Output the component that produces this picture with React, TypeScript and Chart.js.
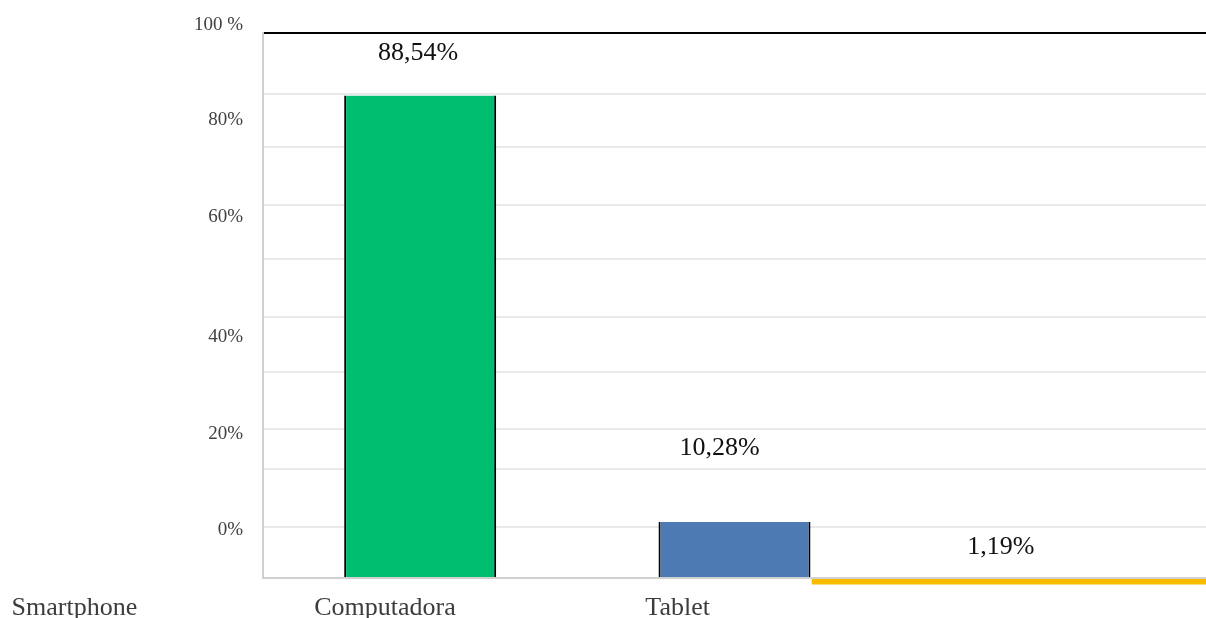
import React, { useEffect, useRef } from 'react';
import { Chart, registerables } from 'chart.js';

Chart.register(...registerables);

// ---- data ----
const categories = ['Computadora', 'Tablet', 'Smartphone'];
const shareValues = [88.54, 10.28, 1.19];
const barColors = ['#00BE6F', '#4E7AB4', '#F7BB00'];
const xTickLabels = ['Smartphone', 'Computadora', 'Tablet'];
const yTickLabels = ['100 %', '80%', '60%', '40%', '20%', '0%'];

const FONT = '"Liberation Serif", "Times New Roman", serif';

const fmt = (v: number) => v.toFixed(2).replace('.', ',') + '%';

export default function App() {
  const ref = useRef<HTMLCanvasElement | null>(null);

  useEffect(() => {
    if (!ref.current) return;

    // axis layout (as in the reference rendering)
    const gridValues = [100, 88.81, 79.08, 68.44, 58.53, 47.89, 37.8, 27.43, 20.0, 9.36, 0];
    const yLabelPositions = [101.5, 83.95, 66.25, 44.2, 26.4, 8.8];
    const xLabelPositions = [-1.1, -0.112, 0.819];
    const labelOffsets = [
      { dx: -2, dy: -35 },
      { dx: -15, dy: -66.5 },
      { dx: -48, dy: -25 },
    ];

    const valueLabels = {
      id: 'valueLabels',
      afterDatasetsDraw(chart: any) {
        const ctx = chart.ctx;
        ctx.save();
        ctx.font = `26px ${FONT}`;
        ctx.fillStyle = '#111111';
        ctx.textAlign = 'center';
        ctx.textBaseline = 'alphabetic';
        chart.data.datasets.forEach((ds: any, di: number) => {
          const meta = chart.getDatasetMeta(di);
          meta.data.forEach((el: any, i: number) => {
            if (ds.data[i] == null) return;
            const top = Math.min(el.y, el.base);
            const o = labelOffsets[i];
            ctx.fillText(fmt(shareValues[i]), el.x + o.dx, top + o.dy);
          });
        });
        ctx.restore();
      },
    };

    const mainData = shareValues.map((v, i) => (i < 2 ? v : null));
    const phoneData = shareValues.map((v, i) => (i === 2 ? [-v, 0] : null));

    const chart = new Chart(ref.current, {
      type: 'bar',
      data: {
        labels: categories,
        datasets: [
          {
            data: mainData as any,
            backgroundColor: barColors,
            borderColor: '#000000',
            borderWidth: { left: 2, right: 2, top: 0, bottom: 0 } as any,
            borderSkipped: false,
            grouped: false,
            barPercentage: 0.4836,
            categoryPercentage: 1,
          },
          {
            data: phoneData as any,
            backgroundColor: barColors,
            borderWidth: 0,
            grouped: false,
            barPercentage: 1.509,
            categoryPercentage: 1,
            clip: false as any,
          },
        ],
      },
      options: {
        responsive: false,
        animation: false,
        layout: { padding: { top: 33, left: 0, right: 0, bottom: 0 } },
        plugins: {
          legend: { display: false },
          tooltip: { enabled: false },
          title: { display: false },
        },
        scales: {
          x: {
            type: 'category',
            display: false,
          },
          x2: {
            type: 'linear',
            position: 'bottom',
            weight: 1,
            offset: false,
            min: -0.5,
            max: 2.5,
            grid: { display: false, drawTicks: false, offset: false },
            border: { display: false },
            ticks: {
              autoSkip: false,
              maxRotation: 0,
              padding: 14.5,
              color: '#3c3c3c',
              font: { family: FONT, size: 26 },
              callback: (_v: any, i: number) => xTickLabels[i],
            },
            afterBuildTicks: (axis: any) => {
              axis.ticks = xLabelPositions.map((value) => ({ value }));
            },
            afterFit: (axis: any) => {
              axis.height = 40;
              axis.paddingLeft = 0;
              axis.paddingRight = 0;
            },
          },
          y: {
            type: 'linear',
            position: 'left',
            weight: 0,
            min: 0,
            max: 100,
            grid: {
              drawTicks: false,
              lineWidth: 2,
              color: (c: any) =>
                c.tick && c.tick.value === 100
                  ? '#000000'
                  : c.tick && c.tick.value === 0
                  ? '#d0d0d0'
                  : '#e9e9e9',
            },
            border: { display: true, color: '#d0d0d0', width: 2 },
            ticks: { display: false },
            afterBuildTicks: (axis: any) => {
              axis.ticks = gridValues.map((value) => ({ value }));
            },
            afterFit: (axis: any) => {
              axis.width = 0;
              axis.paddingTop = 0;
              axis.paddingBottom = 0;
            },
          },
          yl: {
            type: 'linear',
            position: 'left',
            weight: 1,
            min: 0,
            max: 100,
            grid: { display: false, drawTicks: false },
            border: { display: false },
            ticks: {
              autoSkip: false,
              padding: 20,
              color: '#404040',
              font: { family: FONT, size: 19 },
              callback: (_v: any, i: number) => yTickLabels[i],
            },
            afterBuildTicks: (axis: any) => {
              axis.ticks = yLabelPositions.map((value) => ({ value }));
            },
            afterFit: (axis: any) => {
              axis.width = 263;
              axis.paddingTop = 0;
              axis.paddingBottom = 0;
            },
          },
        },
      } as any,
      plugins: [valueLabels],
    });

    return () => chart.destroy();
  }, []);

  return (
    <div style={{ position: 'fixed', left: 0, top: 0, width: 1206, height: 618, background: '#fff' }}>
      <canvas ref={ref} width={1206} height={618} style={{ display: 'block' }} />
    </div>
  );
}
